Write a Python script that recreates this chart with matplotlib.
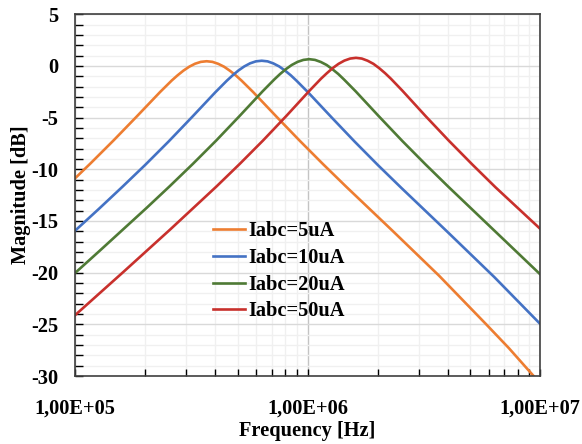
import numpy as np
import matplotlib.pyplot as plt
from matplotlib.ticker import FixedLocator, NullFormatter

plt.rcParams['font.family'] = ['Liberation Serif', 'DejaVu Serif']
plt.rcParams['font.weight'] = 'bold'
plt.rcParams['axes.unicode_minus'] = False

# band-pass magnitude response for four bias currents
freq_5uA = [1.000e5, 1.164e5, 1.465e5, 1.844e5, 2.322e5, 2.605e5, 2.760e5, 2.923e5,
            3.096e5, 3.280e5, 3.474e5, 3.680e5, 3.898e5, 4.129e5, 4.374e5, 4.633e5,
            4.907e5, 5.198e5, 5.832e5, 7.342e5, 9.244e5, 1.164e6, 1.465e6, 2.322e6,
            3.680e6, 5.832e6, 7.342e6, 1.000e7]
mag_5uA = [-10.87, -9.44, -7.20, -4.88, -2.52, -1.41, -0.91, -0.46,
           -0.08, 0.21, 0.39, 0.45, 0.39, 0.20, -0.08, -0.47,
           -0.91, -1.42, -2.53, -4.90, -7.23, -9.49, -11.68, -15.96,
           -20.30, -24.94, -27.30, -30.70]

freq_10uA = [1.000e5, 1.267e5, 1.595e5, 2.008e5, 2.528e5, 3.183e5, 4.007e5, 4.495e5,
             4.762e5, 5.044e5, 5.343e5, 5.660e5, 5.995e5, 6.350e5, 6.727e5, 7.125e5,
             7.547e5, 7.994e5, 8.468e5, 8.970e5, 1.0064e6, 1.267e6, 1.595e6, 2.008e6,
             2.528e6, 4.007e6, 6.350e6, 1.000e7]
mag_10uA = [-15.94, -13.82, -11.71, -9.55, -7.30, -4.95, -2.56, -1.43,
            -0.91, -0.44, -0.05, 0.25, 0.44, 0.50, 0.44, 0.24,
            -0.05, -0.45, -0.91, -1.44, -2.57, -4.97, -7.33, -9.60,
            -11.79, -16.08, -20.42, -24.95]

freq_20uA = [1.000e5, 1.279e5, 2.027e5, 2.552e5, 3.213e5, 4.045e5, 5.092e5, 6.411e5,
             7.192e5, 7.619e5, 8.070e5, 8.549e5, 9.056e5, 9.592e5, 1.016e6, 1.0762e6,
             1.140e6, 1.2075e6, 1.279e6, 1.3548e6, 1.435e6, 1.610e6, 2.027e6, 2.552e6,
             3.213e6, 4.045e6, 6.411e6, 1.000e7]
mag_20uA = [-20.03, -17.86, -13.75, -11.64, -9.47, -7.22, -4.86, -2.45,
            -1.31, -0.78, -0.31, 0.09, 0.39, 0.58, 0.65, 0.58,
            0.38, 0.09, -0.32, -0.78, -1.32, -2.46, -4.88, -7.25,
            -9.52, -11.72, -16.01, -20.15]

freq_50uA = [1.000e5, 1.615e5, 2.560e5, 4.057e5, 5.107e5, 6.429e5, 8.094e5, 1.019e6,
             1.143e6, 1.2111e6, 1.283e6, 1.3589e6, 1.439e6, 1.5247e6, 1.615e6, 1.7108e6,
             1.812e6, 1.9194e6, 2.033e6, 2.1536e6, 2.282e6, 2.560e6, 3.222e6, 4.057e6,
             5.107e6, 6.429e6, 1.000e7]
mag_50uA = [-24.11, -19.92, -15.84, -11.66, -9.48, -7.22, -4.85, -2.40,
            -1.23, -0.70, -0.21, 0.20, 0.51, 0.71, 0.78, 0.71,
            0.50, 0.20, -0.22, -0.70, -1.24, -2.41, -4.87, -7.25,
            -9.53, -11.74, -15.75]

labels = ['Iabc=5uA', 'Iabc=10uA', 'Iabc=20uA', 'Iabc=50uA']
colors = ['#ED7D31', '#4472C4', '#4F7A35', '#C8302C']

x_ticks = [1e5, 1e6, 1e7]
x_tick_labels = ['1,00E+05', '1,00E+06', '1,00E+07']
y_ticks = [-30, -25, -20, -15, -10, -5, 0, 5]

FS = 14.7

fig = plt.figure(figsize=(5.82, 4.44), dpi=100)
ax = fig.add_axes([0.129, 0.153, 0.799, 0.815])

series = [(freq_5uA, mag_5uA), (freq_10uA, mag_10uA),
          (freq_20uA, mag_20uA), (freq_50uA, mag_50uA)]
for (f, m), c, lab in zip(series, colors, labels):
    ax.plot(f, m, color=c, lw=1.9, label=lab)

ax.set_xscale('log')
ax.set_xlim(1e5, 1e7)
ax.set_ylim(-30, 5)

ax.xaxis.set_major_locator(FixedLocator(x_ticks))
ax.set_xticklabels(x_tick_labels)
minor_x = [m * 10.0 ** d for d in (5, 6) for m in range(2, 10)]
ax.xaxis.set_minor_locator(FixedLocator(minor_x))
ax.xaxis.set_minor_formatter(NullFormatter())

ax.set_yticks(y_ticks)
ax.set_yticklabels([str(v) for v in y_ticks])
ax.set_yticks(np.arange(-30, 6, 1), minor=True)

ax.set_axisbelow(True)
ax.grid(which='minor', color='#F0F0F0', lw=1.0)
ax.grid(which='major', axis='y', color='#D9D9D9', lw=1.0)
ax.grid(which='major', axis='x', color='#C4C4C4', lw=1.0)

ax.tick_params(axis='y', which='both', direction='in', length=6, width=1,
               left=True, right=False, pad=12, labelsize=FS)
ax.tick_params(axis='x', which='both', direction='in', length=5, width=1,
               bottom=True, top=False, pad=16, labelsize=FS)

for sp in ax.spines.values():
    sp.set_color('#404040')
    sp.set_linewidth(1.2)

ax.set_xlabel('Frequency [Hz]', fontsize=FS, fontweight='bold', labelpad=2)
ax.set_ylabel('Magnitude [dB]', fontsize=FS, fontweight='bold', labelpad=0)

ax.legend(loc='upper left', bbox_to_anchor=(0.296, 0.428), frameon=False,
          fontsize=FS, handlelength=1.6, handletextpad=0.15, labelspacing=0.33,
          borderaxespad=0, borderpad=0)

fig.savefig('out.png', dpi=100)
